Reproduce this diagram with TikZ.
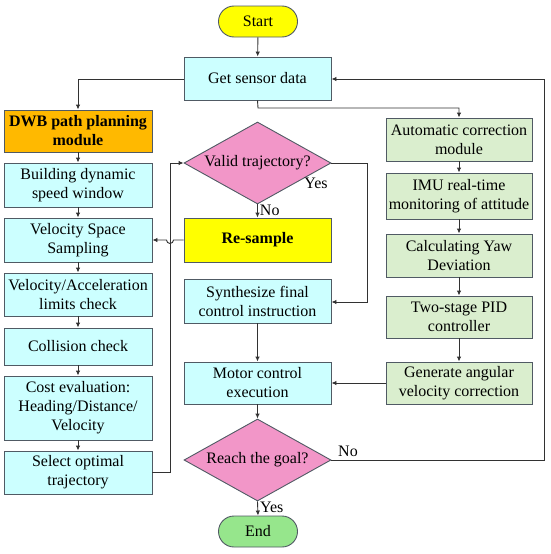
\documentclass[tikz,border=0pt]{standalone}
\usepackage{fontspec}
\setmainfont{Liberation Serif}
\usetikzlibrary{arrows.meta,shapes.geometric}
\definecolor{cyanbox}{RGB}{204,255,255}
\definecolor{greenbox}{RGB}{218,238,206}
\definecolor{pinkdia}{RGB}{242,150,200}
\definecolor{yellowbox}{RGB}{255,255,0}
\definecolor{orangebox}{RGB}{255,185,0}
\definecolor{endgreen}{RGB}{150,230,140}
\definecolor{edge}{RGB}{80,90,100}
\definecolor{linec}{RGB}{50,50,50}
\tikzset{
  base/.style={draw=edge, line width=0.9pt, inner sep=0pt, align=center, font=\fontsize{16}{19}\selectfont},
  cbox/.style={base, fill=cyanbox, minimum width=148pt},
  gbox/.style={base, fill=greenbox, minimum width=146pt},
  term/.style={base, rounded corners=15.5pt, minimum width=79pt, minimum height=31pt},
  dia/.style={base, shape=diamond, fill=pinkdia, minimum width=147pt, minimum height=82pt},
  conn/.style={draw=linec, line width=0.9pt},
  arr/.style={conn, -{Latex[length=5pt,width=4.5pt]}},
  lbl/.style={font=\fontsize{16}{19}\selectfont, inner sep=0pt}
}
\begin{document}
\begin{tikzpicture}[x=1pt,y=-1pt]
\useasboundingbox (0,0) rectangle (550,554);
% middle column
\node[term, fill=yellowbox] (start) at (258,21.5) {Start};
\node[cbox, minimum width=147pt, minimum height=43pt] (sensor) at (257.5,78.5) {Get sensor data};
\node[dia] (valid) at (257.5,163) {\makebox[0pt]{Valid trajectory?}};
\node[cbox, fill=yellowbox, minimum width=147pt, minimum height=44pt, font=\fontsize{16}{19}\selectfont\bfseries] (resample) at (257.5,240) {Re-sample};
\node[cbox, minimum width=147pt, minimum height=44pt] (synth) at (257.5,301) {Synthesize final\\control instruction};
\node[cbox, minimum width=147pt, minimum height=42pt] (motor) at (257.5,383) {Motor control\\execution};
\node[dia] (goal) at (257.5,460) {\makebox[0pt]{Reach the goal?}};
\node[term, fill=endgreen] (end) at (258,531.5) {End};
% left column
\node[cbox, fill=orangebox, minimum height=42pt, font=\fontsize{16}{19}\selectfont\bfseries] (dwb) at (78,131) {DWB path planning\\module};
\node[cbox, minimum height=44pt] (build) at (78,185) {Building dynamic\\speed window};
\node[cbox, minimum height=44pt] (vss) at (78,240) {Velocity Space\\Sampling};
\node[cbox, minimum height=43pt] (vlim) at (78,294.5) {Velocity/Acceleration\\limits check};
\node[cbox, minimum height=37pt] (coll) at (78,346.5) {Collision check};
\node[cbox, minimum height=64pt] (cost) at (78,408) {Cost evaluation:\\Heading/Distance/\\Velocity};
\node[cbox, minimum height=43pt] (select) at (78,472.5) {Select optimal\\trajectory};
% right column
\node[gbox, minimum height=43pt] (auto) at (459,139.5) {Automatic correction\\module};
\node[gbox, minimum height=46pt] (imu) at (459,196) {IMU real-time\\monitoring of attitude};
\node[gbox, minimum height=43pt] (yaw) at (459,255.5) {Calculating Yaw\\Deviation};
\node[gbox, minimum height=42pt] (pid) at (459,317) {Two-stage PID\\controller};
\node[gbox, minimum height=42pt] (gen) at (459,383) {Generate angular\\velocity correction};
% coordinates
\coordinate (sL) at (78,79);
\coordinate (sB) at (258,108);
\coordinate (sR) at (459,108);
\coordinate (vR) at (367,163);
\coordinate (vD) at (367,302);
\coordinate (selR) at (170,472.5);
\coordinate (selU) at (170,163);
\coordinate (gR) at (544,460);
\coordinate (gU) at (544,79);
% connectors
\draw[arr] (start) -- (sensor);
\draw[arr] (sensor.west |- sL) -- (sL) -- (dwb.north);
\draw[arr] (sensor.south) -- (sB) -- (sR) -- (auto.north);
\draw[arr] (valid.south) -- (resample.north) node[lbl, pos=0.45, right=2pt] {No};
\draw[arr] (valid.east) -- (vR) -- (vD) -- (synth.east |- vD);
\node[lbl] (yes1) at (316,183) {Yes};
\draw[arr] (synth) -- (motor);
\draw[arr] (motor) -- (goal);
\draw[arr] (goal.south) -- (end.north) node[lbl, pos=0.45, right=2pt] {Yes};
\draw[conn] (goal.east) -- (gR) -- (gU);
\draw[arr] (gU) -- (sensor.east |- gU);
\node[lbl] (no2) at (348,451) {No};
\draw[arr] (dwb) -- (build);
\draw[arr] (build) -- (vss);
\draw[arr] (vss) -- (vlim);
\draw[arr] (vlim) -- (coll);
\draw[arr] (coll) -- (cost);
\draw[arr] (cost) -- (select);
\draw[conn] (select.east |- selR) -- (selR) -- (selU);
\draw[arr] (selU) -- (valid.west);
\draw[arr] (resample.west) -- (173.5,240) arc[start angle=0, end angle=180, radius=3.5] -- (vss.east);
\draw[arr] (auto) -- (imu);
\draw[arr] (imu) -- (yaw);
\draw[arr] (yaw) -- (pid);
\draw[arr] (pid) -- (gen);
\draw[arr] (gen) -- (motor);
\end{tikzpicture}
\end{document}
